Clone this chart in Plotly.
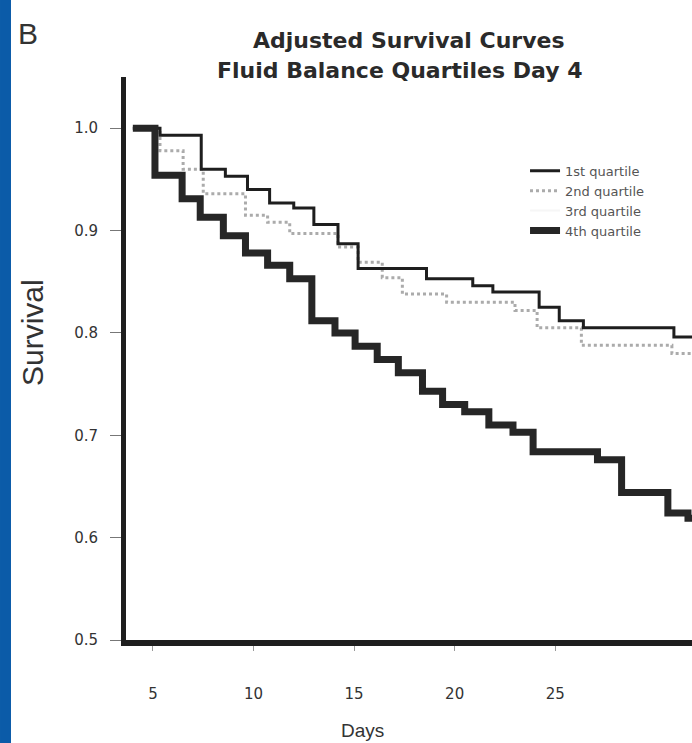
import plotly.graph_objects as go

# ---- data (apparent positions) ----
days_q1 = [4.0, 5.35, 7.4, 8.6, 9.7, 10.8, 12.0, 13.0, 14.2, 15.2, 18.6, 20.9, 21.9, 24.2, 25.2, 26.4, 30.9, 31.8]
surv_q1 = [1.0, 0.993, 0.960, 0.953, 0.940, 0.927, 0.922, 0.906, 0.887, 0.863, 0.853, 0.846, 0.840, 0.825, 0.812, 0.805, 0.796, 0.796]

days_q2 = [4.0, 5.35, 6.5, 7.5, 9.6, 10.7, 11.8, 14.2, 15.2, 16.4, 17.4, 19.6, 23.0, 24.1, 26.3, 30.8, 31.8]
surv_q2 = [1.0, 0.978, 0.960, 0.936, 0.915, 0.908, 0.897, 0.884, 0.869, 0.854, 0.838, 0.830, 0.822, 0.805, 0.788, 0.780, 0.780]

days_q4 = [4.0, 5.1, 6.45, 7.35, 8.5, 9.6, 10.7, 11.8, 12.9, 14.05, 15.05, 16.15, 17.2, 18.4, 19.4, 20.5, 21.7, 22.9, 23.9, 27.1, 28.3, 30.6, 31.6, 31.8]
surv_q4 = [1.0, 0.954, 0.931, 0.913, 0.895, 0.878, 0.866, 0.853, 0.812, 0.800, 0.787, 0.774, 0.761, 0.743, 0.730, 0.723, 0.710, 0.703, 0.684, 0.676, 0.644, 0.624, 0.619, 0.619]

legend_names = ["1st quartile", "2nd quartile", "3rd quartile", "4th quartile"]
x_ticks = [5, 10, 15, 20, 25]
y_ticks = [0.5, 0.6, 0.7, 0.8, 0.9, 1.0]
y_ticklabels = ["0.5", "0.6", "0.7", "0.8", "0.9", "1.0"]

ARIAL = "Liberation Sans, Arial, sans-serif"
DEJA = "DejaVu Sans, sans-serif"

fig = go.Figure()
fig.add_trace(go.Scatter(x=days_q2, y=surv_q2, name=legend_names[1], mode="lines", legendrank=2,
                         line=dict(shape="hv", color="#ababab", width=3, dash="dot")))
fig.add_trace(go.Scatter(x=days_q1, y=surv_q1, name=legend_names[0], mode="lines", legendrank=1,
                         line=dict(shape="hv", color="#1e1e1e", width=3)))
fig.add_trace(go.Scatter(x=[None], y=[None], name=legend_names[2], mode="lines", legendrank=3,
                         line=dict(shape="hv", color="#f6f6f6", width=2)))
fig.add_trace(go.Scatter(x=days_q4, y=surv_q4, name=legend_names[3], mode="lines", legendrank=4,
                         line=dict(shape="hv", color="#262626", width=7)))

fig.update_layout(
    width=692, height=743,
    margin=dict(l=126, r=0, t=77, b=103),
    paper_bgcolor="white", plot_bgcolor="white",
    font=dict(family=ARIAL, color="#333"),
    showlegend=True,
    legend=dict(x=0.705, y=0.86, xanchor="left", yanchor="top",
                bgcolor="rgba(0,0,0,0)", font=dict(family=DEJA, size=13, color="#555")),
    xaxis=dict(range=[3.66, 31.8], tickvals=x_ticks, ticktext=[str(v) for v in x_ticks],
               showgrid=False, zeroline=False, showline=True, linewidth=6, linecolor="#1e1e1e",
               ticks="outside", ticklen=5, tickwidth=1, tickcolor="#999",
               ticklabelstandoff=30, tickfont=dict(family=DEJA, size=15, color="#333")),
    yaxis=dict(range=[0.5, 1.05], tickvals=y_ticks, ticktext=y_ticklabels,
               showgrid=False, zeroline=False, showline=True, linewidth=5, linecolor="#1e1e1e",
               ticks="outside", ticklen=11, tickwidth=1, tickcolor="#777",
               ticklabelstandoff=9, tickfont=dict(family=DEJA, size=15, color="#333")),
    shapes=[dict(type="rect", xref="paper", yref="paper",
                 x0=-0.2226, x1=-0.2032, y0=-0.19, y1=1.14,
                 fillcolor="#0b5ba8", line=dict(width=0), layer="above")],
    annotations=[
        dict(text="<b>Adjusted Survival Curves</b>", xref="paper", yref="paper",
             x=(409 - 126) / 566, xanchor="center", y=1.0, yanchor="middle", yshift=77 - 40,
             showarrow=False, font=dict(family=DEJA, size=22, color="#2a2a2a")),
        dict(text="<b>Fluid Balance Quartiles Day 4</b>", xref="paper", yref="paper",
             x=(400 - 126) / 566, xanchor="center", y=1.0, yanchor="middle", yshift=77 - 70,
             showarrow=False, font=dict(family=DEJA, size=22, color="#2a2a2a")),
        dict(text="B", xref="paper", yref="paper", x=(28 - 126) / 566, xanchor="center",
             y=1.0, yanchor="middle", yshift=77 - 33, showarrow=False,
             font=dict(family=ARIAL, size=30, color="#333")),
        dict(text="Survival", xref="paper", yref="paper", x=(32 - 126) / 566, xanchor="center",
             y=(640 - 333) / 563, yanchor="middle", textangle=-90, showarrow=False,
             font=dict(family=ARIAL, size=30, color="#333")),
        dict(text="Days", xref="paper", yref="paper", x=(362 - 126) / 566, xanchor="center",
             y=0, yanchor="top", yshift=-78, showarrow=False,
             font=dict(family=ARIAL, size=19, color="#333")),
    ],
)

fig.write_html("out.html", config={"displayModeBar": False},
               post_script="document.body.style.margin='0';")
